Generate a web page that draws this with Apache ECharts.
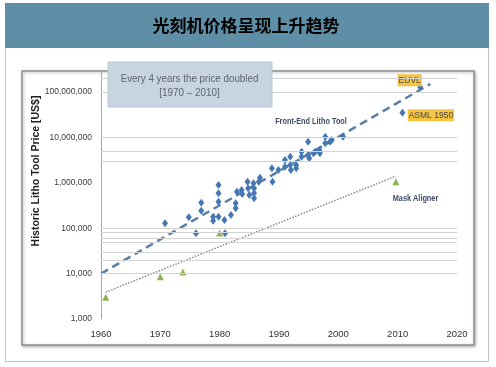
<!DOCTYPE html>
<html>
<head>
<meta charset="utf-8">
<script src="https://cdn.jsdelivr.net/npm/echarts@6/dist/echarts.min.js"></script>
<style>html,body{margin:0;padding:0;background:#fff}#c{width:496px;height:367px}</style>
</head>
<body>
<div id="c"></div>
<script>
const titleText = '光刻机价格呈现上升趋势';
const noteLines = ['Every 4 years the price doubled', '[1970 \u2013 2010]'];
const yAxisTitle = 'Historic Litho Tool Price [US$]';
const seriesNames = ['Front-End Litho Tool', 'Mask Aligner'];
const xRange = [1960, 2020];
const yRange = [1000, 290000000];

const frontEndTool = [
  [1970.8,128000],[1974.8,174000],[1976.0,77000],[1976.9,365000],[1976.9,243000],
  [1978.9,179000],[1978.9,146000],[1979.8,895000],[1979.8,587000],[1979.8,384000],
  [1979.8,179000],[1980.8,152000],[1980.9,77000],[1981.9,195000],[1982.7,353000],
  [1982.7,274000],[1982.9,637000],[1983.7,694000],[1983.8,566000],[1984.7,1057000],
  [1984.8,757000],[1985.0,538000],[1985.7,975000],[1985.8,757000],[1985.8,456000],
  [1985.8,587000],[1986.6,1057000],[1986.8,1295000],[1988.8,2085000],[1988.9,1057000],
  [1989.9,1914000],[1991.0,3180000],[1991.0,2263000],[1991.9,3758000],[1991.9,2466000],
  [1992.0,1914000],[1992.9,2466000],[1992.9,2085000],[1993.8,4840000],[1993.8,3758000],
  [1994.9,8040000],[1994.9,4095000],[1995.1,3467000],[1995.8,4467000],[1996.1,4840000],
  [1996.8,5275000],[1996.9,4467000],[1997.8,10360000],[1997.8,7413000],[1998.6,8040000],
  [1998.9,8770000],[2000.8,10360000]
];
const namedTools = [
  { name: 'EUVL', value: [2013.8, 127000000] },
  { name: 'ASML 1950', value: [2010.8, 35000000] }
];
const maskAligner = [[1960.8,3000],[1970.0,8500],[1973.8,10800],[1980.0,78000],[2009.7,1050000]];
const frontEndTrend = [[1960,10000],[2015.5,150000000]];
const maskTrend = [[1960.8,3900],[2009.7,1400000]];
const gridValues = [10000,20000,30000,50000,60000,80000,100000,3000000,5000000,10000000,100000000,200000000];

const chart = echarts.init(document.getElementById('c'), null, {renderer:'canvas'});
const labelOffsets = { 'EUVL': [-10.5, -7], 'ASML 1950': [28.5, 2.5] };

chart.setOption({
  animation: false,
  backgroundColor: '#fff',
  grid: { left: 101, right: 39, top: 71, bottom: 48 },
  xAxis: {
    type: 'value', min: xRange[0], max: xRange[1], interval: 10,
    axisLine: { show: false }, axisTick: { show: false }, splitLine: { show: false },
    axisLabel: { fontSize: 9.5, margin: 10, color: '#333', fontFamily: 'Liberation Sans, Arial, sans-serif', formatter: v => String(v) }
  },
  yAxis: {
    type: 'log', min: yRange[0], max: yRange[1], logBase: 10,
    axisLine: { show: true, lineStyle: { color: '#a8a8a8', width: 1 } },
    axisTick: { show: false }, splitLine: { show: false },
    axisLabel: {
      fontSize: 8.5, margin: 9, color: '#3a3a3a', showMaxLabel: false,
      fontFamily: 'Liberation Sans, Arial, sans-serif',
      formatter: v => Math.round(v).toLocaleString('en-US')
    }
  },
  graphic: [
    { type: 'rect', z: 0, shape: { x: 5.5, y: 3.5, width: 483, height: 358 }, style: { fill: '#fff', stroke: '#c4c4c4', lineWidth: 1 } },
    { type: 'rect', z: 0, shape: { x: 5, y: 3, width: 484, height: 45 }, style: { fill: '#5e8fa7' } },
    { type: 'text', z: 1, x: 246, y: 26, style: { text: titleText, font: 'bold 17px "Noto Sans CJK SC", sans-serif', fill: '#000', align: 'center', verticalAlign: 'middle' } },
    { type: 'rect', z: 0, shape: { x: 22, y: 71, width: 452, height: 274 }, style: { fill: '#fff', stroke: '#8e8e8e', lineWidth: 1.5, shadowBlur: 3, shadowOffsetX: 1, shadowOffsetY: 1, shadowColor: 'rgba(0,0,0,0.3)' } },
    { type: 'rect', z: 10, shape: { x: 108, y: 62, width: 164, height: 45 }, style: { fill: '#c8d4e0', stroke: '#b9c6d3', lineWidth: 1 } },
    { type: 'text', z: 11, x: 189.5, y: 79, scaleX: 0.89, style: { text: noteLines[0], font: '11px "Liberation Sans", Arial, sans-serif', fill: '#5d6570', align: 'center', verticalAlign: 'middle' } },
    { type: 'text', z: 11, x: 189.5, y: 92.5, scaleX: 0.9, style: { text: noteLines[1], font: '11px "Liberation Sans", Arial, sans-serif', fill: '#5d6570', align: 'center', verticalAlign: 'middle' } },
    { type: 'text', z: 11, x: 36.5, y: 171, rotation: Math.PI / 2, style: { text: yAxisTitle, font: 'bold 10.5px "Liberation Sans", Arial, sans-serif', fill: '#222', align: 'center', verticalAlign: 'middle' } },
    { type: 'text', z: 11, x: 311, y: 122, scaleX: 0.86, style: { text: seriesNames[0], font: 'bold 8.5px "Liberation Sans", Arial, sans-serif', fill: '#3e4a66', align: 'center', verticalAlign: 'middle' } },
    { type: 'text', z: 11, x: 415.5, y: 198.5, scaleX: 0.86, style: { text: seriesNames[1], font: 'bold 8.5px "Liberation Sans", Arial, sans-serif', fill: '#3e4a66', align: 'center', verticalAlign: 'middle' } }
  ],
  series: [
    {
      name: seriesNames[0] + ' trend', type: 'line', data: frontEndTrend, symbol: 'none', z: 3,
      lineStyle: { color: '#5b7fa7', width: 2.5, type: [8, 5] },
      markLine: {
        silent: true, symbol: 'none', label: { show: false },
        lineStyle: { color: '#d3d3d3', width: 1, type: 'solid' },
        data: gridValues.map(v => ({ yAxis: v }))
      }
    },
    {
      name: seriesNames[1] + ' trend', type: 'line', data: maskTrend, symbol: 'none', z: 3,
      lineStyle: { color: '#8a8a8a', width: 1.5, type: [1.5, 1.5] }
    },
    {
      name: seriesNames[0], type: 'scatter', data: frontEndTool, symbol: 'diamond', symbolSize: [6, 8], z: 4,
      itemStyle: { color: '#4677b2', opacity: 1 }
    },
    {
      name: seriesNames[0] + ' highlights', type: 'scatter', symbol: 'diamond', symbolSize: [6, 8], z: 4,
      itemStyle: { color: '#4677b2', opacity: 1 },
      data: namedTools.map(t => ({
        name: t.name, value: t.value,
        label: {
          show: true, position: 'inside', offset: labelOffsets[t.name], formatter: '{b}',
          fontSize: 8.5, fontFamily: 'Liberation Sans, Arial, sans-serif', color: '#4a4a4a',
          backgroundColor: '#f5c443', padding: [2, 1, 1, 1]
        }
      }))
    },
    {
      name: seriesNames[1], type: 'scatter', data: maskAligner, symbol: 'triangle', symbolSize: 7, z: 4,
      itemStyle: { color: '#8fb356', opacity: 1 }
    }
  ]
});
</script>
</body>
</html>
